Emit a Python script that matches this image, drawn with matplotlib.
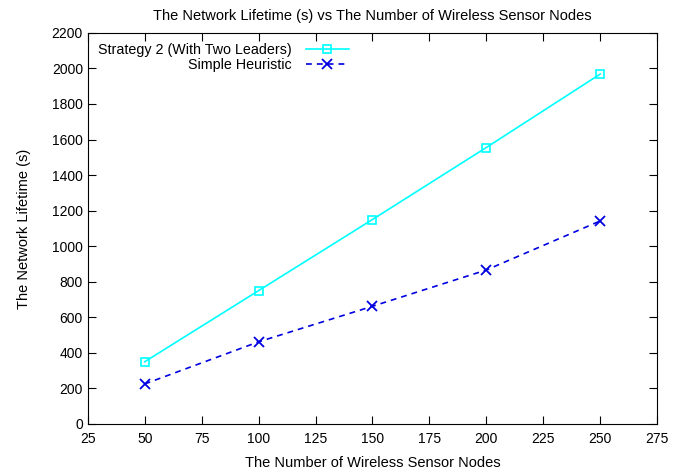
import numpy as np
import matplotlib.pyplot as plt

nodes = [50, 100, 150, 200, 250]
strategy2 = [350, 750, 1150, 1555, 1968]
heuristic = [225, 462, 662, 866, 1142]

xticks = np.arange(25, 276, 25)
yticks = np.arange(0, 2201, 200)

plt.rcParams['font.family'] = ['Liberation Sans', 'DejaVu Sans']

fig = plt.figure(figsize=(6.91, 4.69), dpi=100)
ax = fig.add_axes([0.127, 0.096, 0.824, 0.834])

ax.plot(nodes, strategy2, color='#00ffff', marker='s', markersize=6,
        markerfacecolor='none', markeredgewidth=1.2, linewidth=1.2,
        label='Strategy 2 (With Two Leaders)')
ax.plot(nodes, heuristic, color='#0000e0', marker='x', markersize=6.5,
        markeredgewidth=1.3, linewidth=1.2, linestyle=(0, (3.5, 3)),
        label='Simple Heuristic')

ax.set_xlim(25, 275)
ax.set_ylim(0, 2200)
ax.set_xticks(xticks)
ax.set_yticks(yticks)
ax.tick_params(direction='in', top=True, right=True, labelsize=10, length=6)
ax.tick_params(axis='x', pad=6)

ax.set_title('The Network Lifetime (s) vs The Number of Wireless Sensor Nodes',
             fontsize=10.5, pad=9)
ax.set_xlabel('The Number of Wireless Sensor Nodes', fontsize=10.5, labelpad=7)
ax.set_ylabel('The Network Lifetime (s)', fontsize=10.5, labelpad=15)

ax.legend(loc='upper left', frameon=False, markerfirst=False, fontsize=10.3,
          handlelength=3, handletextpad=1.0, borderaxespad=0.3,
          labelspacing=0.05, bbox_to_anchor=(0.0, 1.0))

fig.savefig('out.png', dpi=100)
